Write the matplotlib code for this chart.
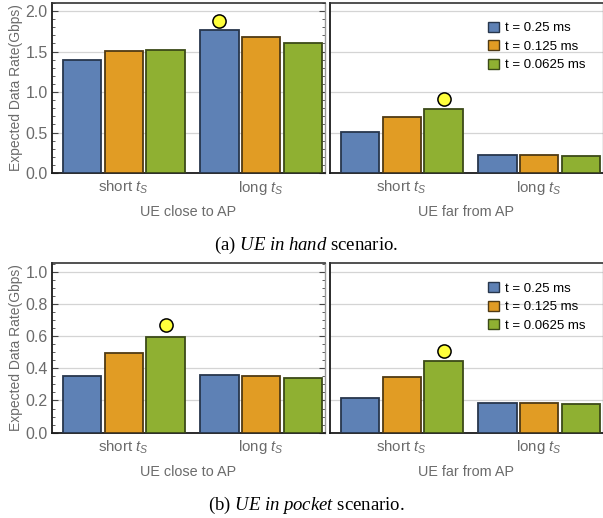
import matplotlib
matplotlib.use("Agg")
import matplotlib.pyplot as plt
import numpy as np

plt.rcParams["font.family"] = ["Liberation Sans", "DejaVu Sans"]
plt.rcParams["mathtext.fontset"] = "custom"
plt.rcParams["mathtext.rm"] = "Liberation Serif"
plt.rcParams["mathtext.it"] = "Liberation Serif:italic"
plt.rcParams["mathtext.sf"] = "Liberation Sans:italic"

# data, rows = (short t_S, long t_S), cols = t values
t_labels = ["t = 0.25 ms", "t = 0.125 ms", "t = 0.0625 ms"]
group_labels = [r"short $\mathsf{t_S}$", r"long $\mathsf{t_S}$"]
panel_titles = ["UE close to AP", "UE far from AP"]

hand_close = [[1.40, 1.51, 1.52], [1.765, 1.68, 1.60]]
hand_far = [[0.505, 0.695, 0.79], [0.22, 0.22, 0.215]]
pocket_close = [[0.352, 0.493, 0.593], [0.36, 0.352, 0.338]]
pocket_far = [[0.217, 0.348, 0.443], [0.186, 0.184, 0.18]]

# best configuration marker: (group, series, marker value)
best_hand_close = (1, 0, 1.88)
best_hand_far = (0, 2, 0.92)
best_pocket_close = (0, 2, 0.669)
best_pocket_far = (0, 2, 0.506)

colors = ["#5e81b5", "#e19c24", "#8fb032"]
edges = ["#27364c", "#4f3a14", "#3b4a18"]
gray = "#6b6b6b"

group_start = [0.0, 3.29]
bar_w = 0.92
xlim = (-0.717, 5.815)


def draw_panel(ax, values, best, ymax, major, minor, left=True, legend=False):
    for g, row in enumerate(values):
        for i, v in enumerate(row):
            x = group_start[g] + i
            ax.bar(x, v, width=bar_w, color=colors[i], edgecolor=edges[i],
                   linewidth=1.3, label=t_labels[i] if g == 0 else None, zorder=3)
    g, i, mv = best
    ax.plot(group_start[g] + i, mv, "o", ms=9.5, mfc="#ffff3c", mec="black",
            mew=1.1, zorder=4, clip_on=False)
    ax.set_xlim(*xlim)
    ax.set_ylim(0, ymax)
    ax.set_xticks([group_start[0] + 1, group_start[1] + 1])
    ax.set_xticklabels(group_labels, color=gray, fontsize=10.8)
    ax.tick_params(axis="x", which="both", length=0, pad=4)
    ax.set_yticks(np.arange(0, ymax + 1e-9, major))
    ax.set_yticks(np.arange(0, ymax + 1e-9, minor), minor=True)
    ax.yaxis.grid(True, color="#d4d4d4", linewidth=0.9, zorder=0)
    ax.set_axisbelow(True)
    if left:
        ax.tick_params(axis="y", which="major", direction="in", length=4,
                       colors="#444444", labelcolor=gray, labelsize=11.5,
                       right=True, width=0.8, pad=3)
        ax.tick_params(axis="y", which="minor", direction="in", length=2,
                       colors="#444444", right=True, width=0.6)
        ax.set_yticklabels([f"{t:.1f}" for t in ax.get_yticks()])
        ax.set_ylabel("Expected Data Rate(Gbps)", color=gray, fontsize=10, labelpad=2)
    else:
        ax.tick_params(axis="y", which="both", length=0, labelleft=False)
    for s in ["left", "bottom"]:
        ax.spines[s].set_color("#1a1a1a")
        ax.spines[s].set_linewidth(1.3)
    ax.spines["top"].set_color("#333333")
    ax.spines["top"].set_linewidth(1.2)
    ax.spines["right"].set_color("#999999")
    ax.spines["right"].set_linewidth(1.0)
    ax.set_xlabel(panel_titles[0] if left else panel_titles[1], color=gray,
                  fontsize=10.4, labelpad=6)
    if legend:
        leg = ax.legend(loc="upper right", bbox_to_anchor=(0.98, 0.96), frameon=False,
                        fontsize=9.5, handlelength=0.8, handleheight=0.8,
                        handletextpad=0.5, labelspacing=0.45)
        for h in leg.legend_handles:
            h.set_linewidth(1.0)


fig = plt.figure(figsize=(6.03, 5.18), dpi=100)
W, H = 603, 518

def axes_px(x0, y0, x1, y1):
    return fig.add_axes([x0 / W, 1 - y1 / H, (x1 - x0) / W, (y1 - y0) / H])

ax1 = axes_px(52, 3, 325, 173)
ax2 = axes_px(330, 3, 603, 173)
ax3 = axes_px(52, 263.3, 325, 432.7)
ax4 = axes_px(330, 263.3, 603, 432.7)

draw_panel(ax1, hand_close, best_hand_close, 2.1, 0.5, 0.1)
draw_panel(ax2, hand_far, best_hand_far, 2.1, 0.5, 0.1, left=False, legend=True)
draw_panel(ax3, pocket_close, best_pocket_close, 1.052, 0.2, 0.05)
draw_panel(ax4, pocket_far, best_pocket_far, 1.052, 0.2, 0.05, left=False, legend=True)

fig.text(306 / W, 1 - 245 / H, r"(a) $\mathit{UE\ in\ hand}$ scenario.",
         ha="center", va="center", fontsize=13.5, family="Liberation Serif")
fig.text(306 / W, 1 - 505 / H, r"(b) $\mathit{UE\ in\ pocket}$ scenario.",
         ha="center", va="center", fontsize=13.5, family="Liberation Serif")

fig.savefig("out.png", dpi=100)
